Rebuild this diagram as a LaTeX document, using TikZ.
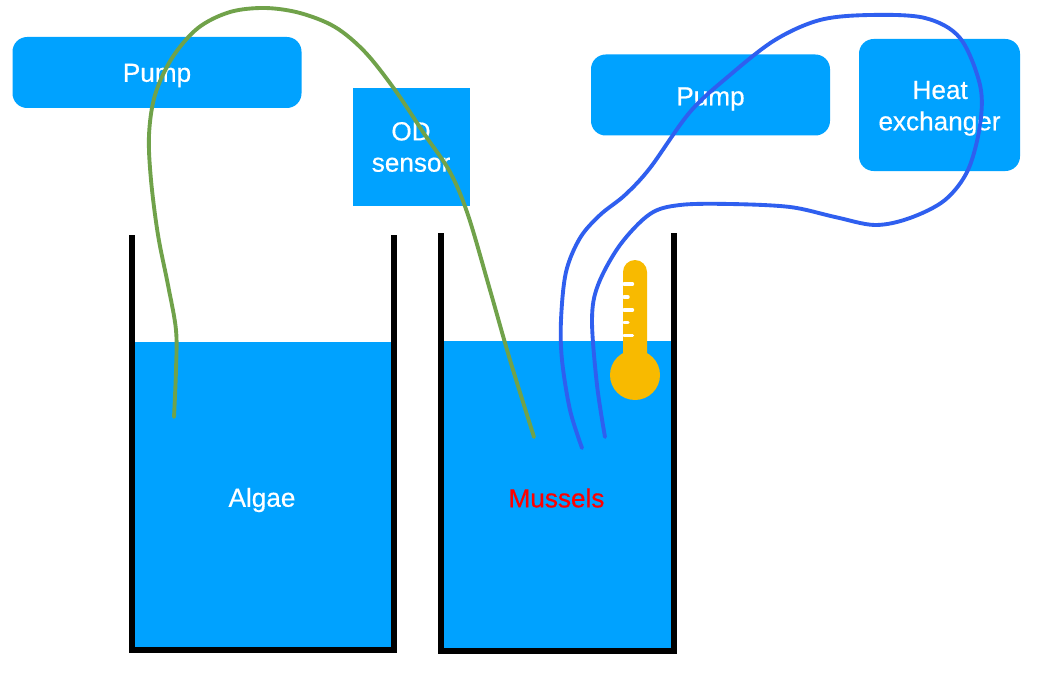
\documentclass[tikz,border=0pt]{standalone}
\usepackage{fontspec}
\setmainfont[FakeBold=0.5]{Liberation Sans}
\definecolor{water}{HTML}{00A2FF}
\definecolor{algaeline}{HTML}{70A24A}
\definecolor{musselline}{HTML}{2F5FEF}
\definecolor{thermo}{HTML}{F8BA00}
\tikzset{
  every node/.style={font=\fontsize{19.6}{23.5}\selectfont},
  unit/.style={fill=water,text=white,align=center,inner sep=0pt,rounded corners=11pt},
  sensorbox/.style={fill=water,text=white,align=center,inner sep=0pt},
  waterbody/.style={fill=water,draw=none,inner sep=0pt},
  wall/.style={line width=4.6pt,line cap=rect,line join=miter},
  hose/.style={line width=2.9pt,line cap=round,line join=round},
  tick/.style={white,line width=2.6pt,line cap=round}
}
\begin{document}
\begin{tikzpicture}[x=0.75pt,y=-0.75pt]
\useasboundingbox (0,0) rectangle (1061,674);
\fill[white] (0,0) rectangle (1061,674);
% water
\node[waterbody,minimum width=257*0.75pt,minimum height=306*0.75pt,anchor=north west] (algaewater) at (134.5,342) {};
\node[waterbody,minimum width=229*0.75pt,minimum height=309*0.75pt,anchor=north west] (musselwater) at (443.5,341) {};
\node[text=white] (algae) at (262,500) {Algae};
\node[text=red] (mussels) at (556.5,498) {Mussels};
% tanks
\draw[wall] (132,238) -- (132,650) -- (394,650) -- (394,238);
\draw[wall] (441,236) -- (441,651) -- (674,651) -- (674,236);
% boxes
\node[unit,minimum width=289*0.75pt,minimum height=71*0.75pt] (pumpA) at (157,72.5) {\rule{0pt}{18pt}Pump};
\node[sensorbox,minimum width=117*0.75pt,minimum height=117*0.75pt] (od) at (411,147) {OD\\sensor};
\node[unit,minimum width=239*0.75pt,minimum height=81*0.75pt] (pumpB) at (710.5,95) {\rule{0pt}{19.5pt}Pump};
\node[unit,minimum width=161*0.75pt,minimum height=132*0.75pt] (hx) at (939.5,105) {\rule{0pt}{18.5pt}\hspace*{1pt}Heat\\exchanger};
% thermometer
\fill[thermo] (623,272) arc (180:360:12) -- (647,360) -- (623,360) -- cycle;
\fill[thermo] (635,375) circle (25);
\draw[tick] (624,284) -- (632.5,284);
\draw[tick] (624,297) -- (628,297);
\draw[tick] (624,310) -- (632.5,310);
\draw[tick] (624,322.5) -- (628,322.5);
\draw[tick] (624,335.5) -- (632.5,335.5);
% hoses
\coordinate (g1) at (174,417);
\coordinate (g2) at (534,437);
\coordinate (b1) at (582,448);
\coordinate (b2) at (605,437);
\draw[hose,algaeline] plot[smooth,tension=0.55] coordinates {(g1) (176,370) (176,330) (168,285) (158,235) (151,180) (149,135) (155,95) (172,58) (198,28) (230,12) (265,8) (300,13) (335,27) (365,52) (395,90) (425,135) (450,172) (468,215) (490,290) (510,360) (g2)};
\draw[hose,musselline] plot[smooth,tension=0.55] coordinates {(b1) (570,410) (562,360) (561,320) (566,272) (580,238) (600,215) (625,195) (650,168) (690,112) (730,75) (775,40) (820,20) (870,15) (925,18) (960,38) (980,85) (980,125) (968,170) (945,200) (910,218) (875,225) (835,217) (790,207) (730,204) (680,205) (650,214) (620,245) (598,285) (592,320) (597,385) (b2)};
\end{tikzpicture}
\end{document}
